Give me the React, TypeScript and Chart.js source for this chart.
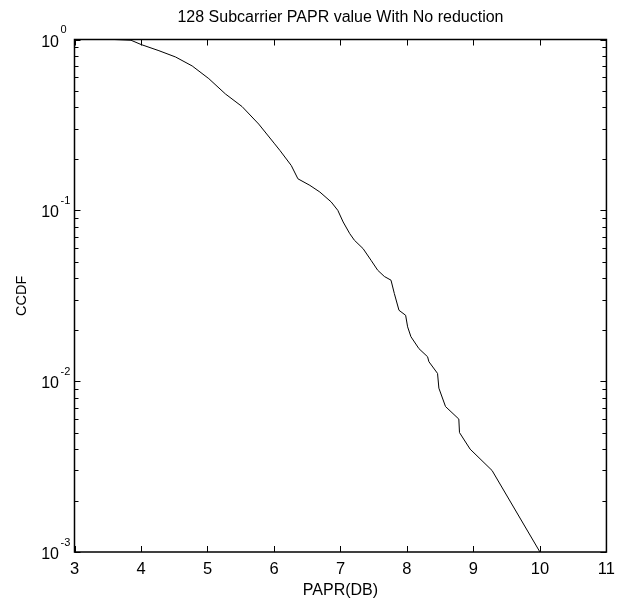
import React, { useEffect, useRef } from "react";
import { Chart, registerables } from "chart.js";

Chart.register(...registerables);

const TITLE = "128 Subcarrier PAPR value With No reduction";
const X_LABEL = "PAPR(DB)";
const Y_LABEL = "CCDF";
const X_TICKS = [3, 4, 5, 6, 7, 8, 9, 10, 11];
const Y_DECADES = [0.001, 0.01, 0.1, 1];

const papr = [
  3.0, 3.6, 3.85, 4.0, 4.27, 4.52, 4.77, 5.02, 5.27, 5.52, 5.77, 6.01, 6.09,
  6.26, 6.36, 6.54, 6.69, 6.86, 6.96, 7.04, 7.14, 7.21, 7.34, 7.46, 7.56,
  7.66, 7.76, 7.81, 7.88, 7.98, 8.01, 8.06, 8.18, 8.31, 8.33, 8.46, 8.48,
  8.58, 8.78, 8.79, 8.95, 9.28, 10.0,
];
const ccdf = [
  1, 1, 0.99, 0.935, 0.86, 0.79, 0.7, 0.59, 0.48, 0.405, 0.32, 0.245, 0.224,
  0.183, 0.153, 0.14, 0.128, 0.112, 0.1, 0.0855, 0.073, 0.0668, 0.0597,
  0.051, 0.0446, 0.041, 0.039, 0.0326, 0.026, 0.0243, 0.0208, 0.0182, 0.0155,
  0.0139, 0.013, 0.0111, 0.0091, 0.0071, 0.006, 0.005, 0.004, 0.003, 0.001,
];

const FONT = "'Liberation Sans', Arial, Helvetica, sans-serif";

const framePlugin = {
  id: "matlabFrame",
  afterDraw(chart: any) {
    const { ctx, chartArea: a, scales } = chart;
    const xs = scales.x;
    const ys = scales.y;
    ctx.save();
    ctx.strokeStyle = "#000";
    ctx.lineWidth = 1.5;
    ctx.strokeRect(a.left, a.top, a.right - a.left, a.bottom - a.top);
    ctx.lineWidth = 1;
    ctx.beginPath();
    const major = 6;
    const minor = 4;
    X_TICKS.forEach((v) => {
      const px = Math.round(xs.getPixelForValue(v)) + 0.5;
      ctx.moveTo(px, a.bottom);
      ctx.lineTo(px, a.bottom - major);
      ctx.moveTo(px, a.top);
      ctx.lineTo(px, a.top + major);
    });
    Y_DECADES.forEach((d, i) => {
      const py = Math.round(ys.getPixelForValue(d)) + 0.5;
      ctx.moveTo(a.left, py);
      ctx.lineTo(a.left + major, py);
      ctx.moveTo(a.right, py);
      ctx.lineTo(a.right - major, py);
      if (i < Y_DECADES.length - 1) {
        for (let m = 2; m <= 9; m++) {
          const q = Math.round(ys.getPixelForValue(d * m)) + 0.5;
          ctx.moveTo(a.left, q);
          ctx.lineTo(a.left + minor, q);
          ctx.moveTo(a.right, q);
          ctx.lineTo(a.right - minor, q);
        }
      }
    });
    ctx.stroke();

    // y tick labels: "10" with a raised exponent
    ctx.fillStyle = "#000";
    ctx.textBaseline = "alphabetic";
    Y_DECADES.forEach((d) => {
      const py = ys.getPixelForValue(d);
      const e = String(Math.round(Math.log10(d)));
      ctx.font = `16px ${FONT}`;
      ctx.textAlign = "right";
      ctx.fillText("10", a.left - 15.5, py + 7);
      ctx.font = `11px ${FONT}`;
      ctx.textAlign = "left";
      ctx.fillText(e, a.left - 14, py - 6.5);
    });
    ctx.restore();
  },
};

export default function App() {
  const ref = useRef<HTMLCanvasElement | null>(null);
  useEffect(() => {
    if (!ref.current) return;
    const points = papr.map((x, i) => ({ x, y: ccdf[i] }));
    const chart = new Chart(ref.current, {
      type: "scatter",
      data: {
        datasets: [
          {
            data: points,
            showLine: true,
            borderColor: "#000",
            borderWidth: 1,
            pointRadius: 0,
            tension: 0,
          },
        ],
      },
      options: {
        animation: false,
        responsive: true,
        maintainAspectRatio: false,
        layout: { padding: { left: 0, right: 14.5, top: 0, bottom: 0 } },
        plugins: {
          legend: { display: false },
          tooltip: { enabled: false },
          title: {
            display: true,
            fullSize: false,
            text: TITLE,
            color: "#000",
            font: { family: FONT, size: 16, weight: "normal" },
            padding: { top: 8, bottom: 12.3 },
          },
        },
        scales: {
          x: {
            type: "linear",
            min: 3,
            max: 11,
            grid: { display: false, drawTicks: false },
            border: { display: false },
            afterBuildTicks: (s: any) => {
              s.ticks = X_TICKS.map((v) => ({ value: v }));
            },
            afterFit: (s: any) => {
              s.height = 54;
            },
            ticks: {
              color: "#000",
              font: { family: FONT, size: 16.5 },
              padding: 8,
              autoSkip: false,
              maxRotation: 0,
              callback: (v: any) => String(v),
            },
            title: {
              display: true,
              text: X_LABEL,
              color: "#000",
              font: { family: FONT, size: 16 },
              padding: { top: 0, bottom: 5.5 },
            },
          },
          y: {
            type: "logarithmic",
            min: 0.001,
            max: 1,
            grid: { display: false, drawTicks: false },
            border: { display: false },
            afterBuildTicks: (s: any) => {
              s.ticks = Y_DECADES.map((v) => ({ value: v }));
            },
            afterFit: (s: any) => {
              s.width = 74.5;
            },
            ticks: { display: false },
            title: {
              display: true,
              text: Y_LABEL,
              color: "#000",
              font: { family: FONT, size: 14.5 },
              padding: { top: 13, bottom: 0 },
            },
          },
        },
      },
      plugins: [framePlugin],
    });
    return () => chart.destroy();
  }, []);

  return (
    <div
      style={{
        position: "fixed",
        left: 0,
        top: 0,
        width: 623,
        height: 606,
        background: "#fff",
      }}
    >
      <canvas ref={ref} />
    </div>
  );
}
